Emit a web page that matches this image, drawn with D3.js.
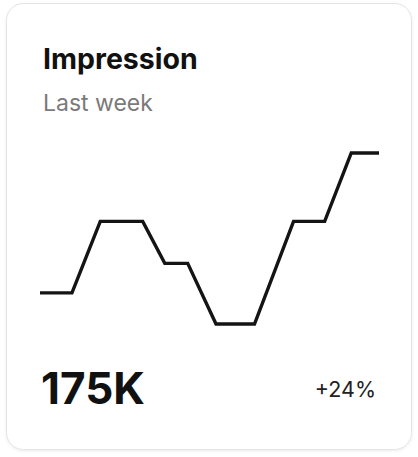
<!DOCTYPE html>
<meta charset="utf-8">
<style>
body { margin: 0; background: #fff; }
text { font-family: Inter, "Noto Sans", sans-serif; }
</style>
<svg width="418" height="457"></svg>
<script src="https://d3js.org/d3.v7.min.js"></script>
<script>

// impressions over last week (K), x = position within week
var days = [0, 1.13, 2.13, 3.63, 4.41, 5.22, 6.22, 7.58, 8.96, 10.06, 11.0, 11.98];
var values = [130, 130, 153, 153, 139.5, 139.5, 120, 120, 153, 153, 175, 175];

var title = "Impression",
    subtitle = "Last week",
    total = "175K",
    change = "+24%";

var svg = d3.select("svg"),
    width = +svg.attr("width"),
    height = +svg.attr("height");

var defs = svg.append("defs");
var f = defs.append("filter").attr("id", "shadow")
    .attr("x", "-5%").attr("y", "-5%").attr("width", "110%").attr("height", "110%");
f.append("feDropShadow")
    .attr("dx", 0).attr("dy", 1).attr("stdDeviation", 1.5)
    .attr("flood-color", "#000").attr("flood-opacity", 0.08);

svg.append("rect")
    .attr("x", 6.5).attr("y", 3.5)
    .attr("width", 405).attr("height", 446)
    .attr("rx", 17)
    .attr("fill", "#fff")
    .attr("stroke", "#e4e4e4")
    .attr("filter", "url(#shadow)");

svg.append("text")
    .attr("x", 43).attr("y", 69)
    .attr("font-size", 28.5).attr("font-weight", 700)
    .attr("fill", "#111")
    .text(title);

svg.append("text")
    .attr("x", 43).attr("y", 111)
    .attr("font-size", 23)
    .attr("fill", "#7a7a7a")
    .text(subtitle);

var x = d3.scaleLinear()
    .domain(d3.extent(days))
    .range([40, 379]);

var y = d3.scaleLinear()
    .domain([d3.min(values), d3.max(values)])
    .range([324, 153]);

var line = d3.line()
    .x(function(d, i) { return x(days[i]); })
    .y(function(d) { return y(d); });

svg.append("path")
    .datum(values)
    .attr("d", line)
    .attr("fill", "none")
    .attr("stroke", "#141414")
    .attr("stroke-width", 3.4)
    .attr("stroke-linejoin", "miter");

svg.append("text")
    .attr("x", 41).attr("y", 404)
    .attr("font-size", 44).attr("font-weight", 700)
    .attr("fill", "#111")
    .text(total);

svg.append("text")
    .attr("x", 376).attr("y", 397)
    .attr("text-anchor", "end")
    .attr("font-size", 21.5)
    .attr("fill", "#222")
    .text(change);

</script>
